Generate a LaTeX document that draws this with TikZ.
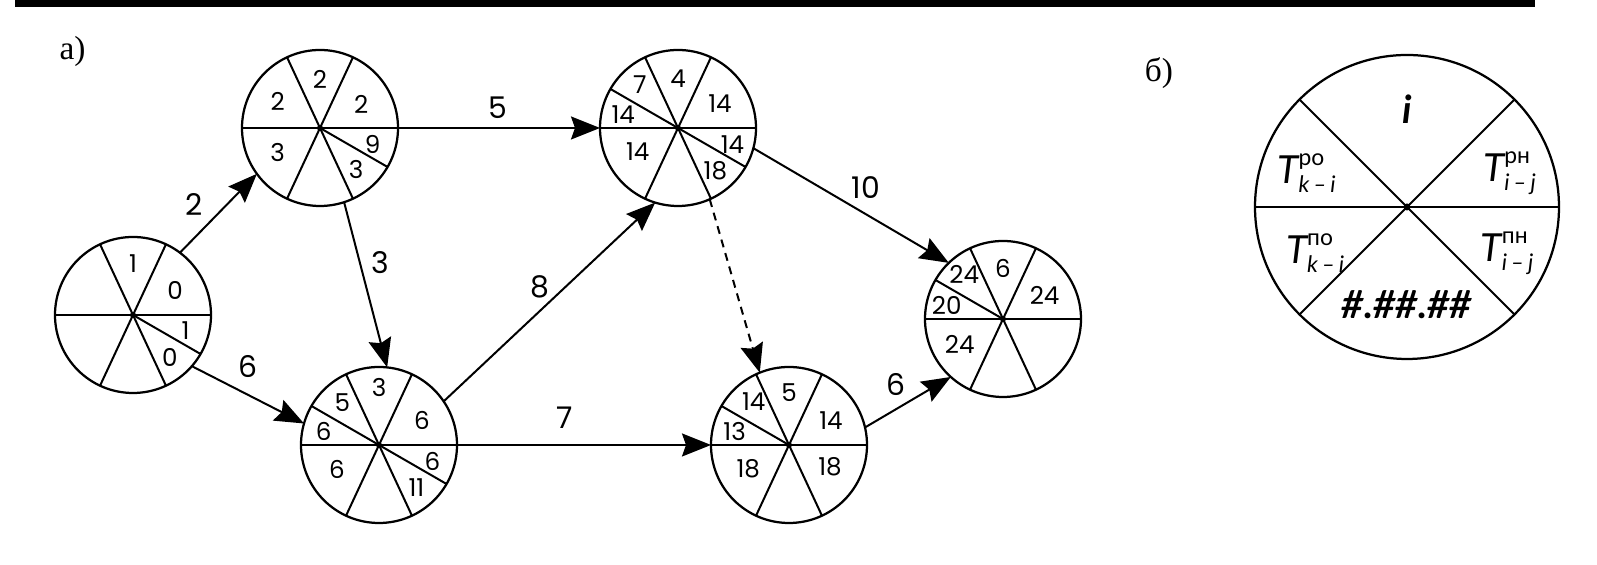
\documentclass[tikz,border=0pt]{standalone}
\usepackage{fontspec}
\setmainfont{Poppins}
\newfontfamily\letterfont{Liberation Serif}
\newfontfamily\keyfont{Lato}
\usetikzlibrary{arrows.meta}

\begin{document}
\begin{tikzpicture}[
    event/.style={
      circle,
      draw,
      line width=0.45mm,
      minimum size=3.12cm,
      inner sep=0pt,
      outer sep=0pt
    },
    keyevent/.style={event, minimum size=6.08cm},
    split/.style={line width=0.4mm},
    axis/.style={line width=0.55mm},
    num/.style={font=\fontsize{14}{14}\selectfont, inner sep=0pt},
    weight/.style={font=\fontsize{17}{17}\selectfont, inner sep=0pt},
    keytext/.style={font=\keyfont\itshape\fontsize{22}{22}\selectfont, inner sep=0pt},
    arrow/.style={
      -{Stealth[length=5.8mm,width=4.6mm,inset=0.8mm]},
      line width=0.4mm
    },
    dummy/.style={arrow, dash pattern=on 1.6mm off 1.2mm}]

    \useasboundingbox (0,0) rectangle (31.94,11.30);

    % page rule
    \draw[line width=1.4mm] (0.30,11.22) -- (30.70,11.22);

    % a) network events
    \node[font=\letterfont\fontsize{19}{19}\selectfont] (lbla) at (1.45,10.28) {а)};
    \node[event] (n1) at (2.66,5.00) {};
    \node[event] (n2) at (6.40,8.74) {};
    \node[event] (n3) at (7.58,2.40) {};
    \node[event] (n4) at (13.56,8.74) {};
    \node[event] (n5) at (15.78,2.40) {};
    \node[event] (n6) at (20.06,4.92) {};

    \foreach \n in {n1,n2,n3,n4,n5,n6} {
      \draw[axis] (\n.west) -- (\n.east);
      \draw[split] (\n.65) -- (\n.245) (\n.115) -- (\n.295);
      \fill (\n) circle (0.6mm);
    }
    \foreach \n/\a in {n1/330,n2/330,n3/150,n3/330,n4/150,n4/330,n5/150,n6/150}
      \draw[split] (\n.center) -- (\n.\a);

    % numbers in the sectors
    \foreach \n/\a/\r/\t in {
        n1/90/1.02/1, n1/30/0.97/0, n1/343/1.1/1, n1/311/1.12/0,
        n2/90/0.98/2, n2/30/0.95/2, n2/148/1.0/2, n2/210/0.98/3, n2/343/1.1/9, n2/311/1.1/3,
        n3/90/1.15/3, n3/30/0.99/6, n3/131/1.12/5, n3/166/1.14/6, n3/210/0.97/6, n3/343/1.12/6, n3/311/1.14/11,
        n4/90/0.98/4, n4/30/0.97/14, n4/131/1.16/7, n4/166/1.13/14, n4/210/0.93/14, n4/343/1.14/14, n4/311/1.14/18,
        n5/90/1.04/5, n5/30/0.97/14, n5/129/1.12/14, n5/166/1.12/13, n5/210/0.94/18, n5/332/0.93/18,
        n6/90/1.02/6, n6/30/0.96/24, n6/131/1.18/24, n6/166/1.16/20, n6/210/1.0/24} {
      \node[num] (\n-\a) at ([shift={(\a:\r)}]\n) {\t};
    }

    % activities
    \draw[arrow] (n1.53) -- (n2.216);
    \draw[arrow] (n1.319) -- (n3.164);
    \draw[arrow] (n2.288) -- (n3.84);
    \draw[arrow] (n2.east) -- (n4.west);
    \draw[arrow] (n3.34) -- (n4.253);
    \draw[arrow] (n3.east) -- (n5.west);
    \draw[dummy] (n4.294) -- (n5.112);
    \draw[arrow] (n4.345) -- (n6.134);
    \draw[arrow] (n5.13) -- (n6.228);

    \node[weight] (w12) at (3.88,7.20) {2};
    \node[weight] (w13) at (4.96,3.96) {6};
    \node[weight] (w23) at (7.60,6.04) {3};
    \node[weight] (w24) at (9.96,9.14) {5};
    \node[weight] (w34) at (10.80,5.56) {8};
    \node[weight] (w35) at (11.30,2.94) {7};
    \node[weight] (w46) at (17.32,7.54) {10};
    \node[weight] (w56) at (17.92,3.60) {6};

    % b) key
    \node[font=\letterfont\fontsize{19}{19}\selectfont] (lblb) at (23.18,9.84) {б)};
    \node[keyevent] (key) at (28.14,7.16) {};
    \draw[axis] (key.west) -- (key.east);
    \draw[split] (key.45) -- (key.225) (key.135) -- (key.315);
    \fill (key) circle (0.7mm);

    \node[keytext] (ki) at ([shift={(0,1.95)}]key) {\bfseries i};
    \node[keytext] (kro) at ([shift={(-2.0,0.68)}]key)
      {$\mbox{T}^{\mbox{\fontsize{13}{13}\selectfont\upshape ро}}_{\mbox{\fontsize{13}{13}\selectfont k\,–\,i}}$};
    \node[keytext] (krn) at ([shift={(2.06,0.68)}]key)
      {$\mbox{T}^{\mbox{\fontsize{13}{13}\selectfont\upshape рн}}_{\mbox{\fontsize{13}{13}\selectfont i\,–\,j}}$};
    \node[keytext] (kpo) at ([shift={(-1.83,-0.92)}]key)
      {$\mbox{T}^{\mbox{\fontsize{13}{13}\selectfont\upshape по}}_{\mbox{\fontsize{13}{13}\selectfont k\,–\,i}}$};
    \node[keytext] (kpn) at ([shift={(2.01,-0.92)}]key)
      {$\mbox{T}^{\mbox{\fontsize{13}{13}\selectfont\upshape пн}}_{\mbox{\fontsize{13}{13}\selectfont i\,–\,j}}$};
    \node[keytext] (kcode) at ([shift={(0,-1.95)}]key) {\bfseries \#.\#\#.\#\#};
  \end{tikzpicture}
\end{document}
